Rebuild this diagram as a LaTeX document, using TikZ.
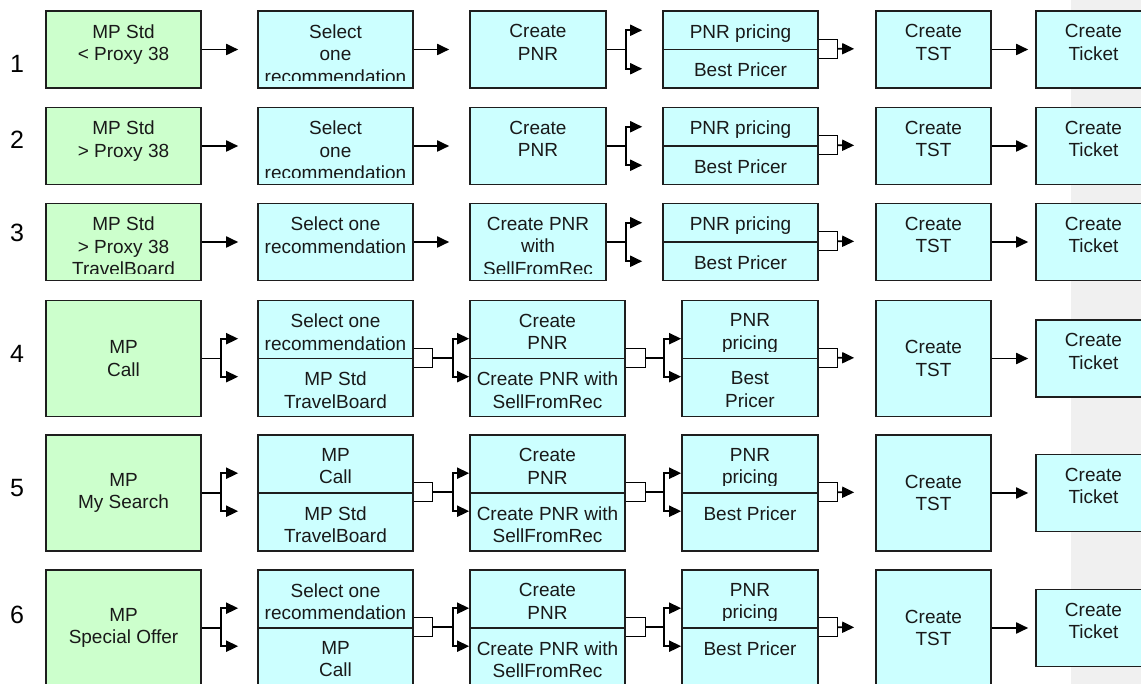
\documentclass[tikz,border=0pt]{standalone}
\usepackage{fontspec}
\setmainfont{Liberation Sans}
\usetikzlibrary{positioning,arrows.meta}

\definecolor{boxgreen}{HTML}{CCFFCC}
\definecolor{boxcyan}{HTML}{CCFFFF}
\definecolor{stripgray}{HTML}{F0F0F0}
\definecolor{edge}{HTML}{1E1E1E}

% box with top aligned text, clipped to the box
\newcommand\flowbox[4]{%
  \node[#1] (#2) at (#3) {};
  \begin{scope}
    \clip ([shift={(2pt,-2pt)}]#2.north west) rectangle ([shift={(-2pt,8pt)}]#2.south east);
    \node[txt, below=14pt of #2.north] (#2t) {#4};
  \end{scope}}

\begin{document}
\begin{tikzpicture}[x=1pt, y=-1pt,
  pbox/.style={rectangle, draw=edge, line width=1.6pt, inner sep=0pt},
  gbox/.style={pbox, fill=boxgreen},
  cbox/.style={pbox, fill=boxcyan},
  colwide/.style={minimum width=155pt},
  colmid/.style={minimum width=136pt},
  colsmall/.style={minimum width=115pt},
  rowshort/.style={minimum height=77pt},
  rowtall/.style={minimum height=116pt},
  halfshort/.style={minimum height=38.5pt},
  halftall/.style={minimum height=58pt},
  txt/.style={inner sep=0pt, align=center, text=black!90, font=\fontsize{19}{22.5}\selectfont},
  mtxt/.style={align=center, text=black!90, font=\fontsize{19}{22.5}\selectfont},
  num/.style={inner sep=0pt, font=\fontsize{25}{25}\selectfont},
  arr/.style={line width=1.8pt, -{Triangle[length=12pt,width=11pt]}},
  brk/.style={line width=1.3pt}]
\useasboundingbox (0,0) rectangle (1141,684);
\fill[stripgray] (1071,0) rectangle (1141,684);

\node[num] (n1) at (17,64) {1};
\node[num] (n2) at (17,140) {2};
\node[num] (n3) at (17,233) {3};
\node[num] (n4) at (17,354) {4};
\node[num] (n5) at (17,488) {5};
\node[num] (n6) at (17,615) {6};

% row 1
\flowbox{gbox,rowshort,colwide}{r1-a}{123.5,49.5}{MP Std\\< Proxy 38}
\flowbox{cbox,rowshort,colwide}{r1-b}{335.5,49.5}{Select\\one\\recommendation}
\flowbox{cbox,rowshort,colmid}{r1-c}{538,49.5}{Create\\PNR}
\flowbox{cbox,halfshort,colwide}{r1-dt}{740.5,30.25}{PNR pricing}
\flowbox{cbox,halfshort,colwide}{r1-db}{740.5,68.75}{Best Pricer}
\flowbox{cbox,rowshort,colsmall}{r1-e}{933.5,49.5}{Create\\TST}
\flowbox{cbox,rowshort,colsmall}{r1-f}{1093.5,49.5}{Create\\Ticket}
% row 2
\flowbox{gbox,rowshort,colwide}{r2-a}{123.5,146}{MP Std\\> Proxy 38}
\flowbox{cbox,rowshort,colwide}{r2-b}{335.5,146}{Select\\one\\recommendation}
\flowbox{cbox,rowshort,colmid}{r2-c}{538,146}{Create\\PNR}
\flowbox{cbox,halfshort,colwide}{r2-dt}{740.5,126.75}{PNR pricing}
\flowbox{cbox,halfshort,colwide}{r2-db}{740.5,165.25}{Best Pricer}
\flowbox{cbox,rowshort,colsmall}{r2-e}{933.5,146}{Create\\TST}
\flowbox{cbox,rowshort,colsmall}{r2-f}{1093.5,146}{Create\\Ticket}
% row 3
\flowbox{gbox,rowshort,colwide}{r3-a}{123.5,242}{MP Std\\> Proxy 38\\TravelBoard}
\flowbox{cbox,rowshort,colwide}{r3-b}{335.5,242}{Select one\\recommendation}
\flowbox{cbox,rowshort,colmid}{r3-c}{538,242}{Create PNR\\with\\SellFromRec}
\flowbox{cbox,halfshort,colwide}{r3-dt}{740.5,222.75}{PNR pricing}
\flowbox{cbox,halfshort,colwide}{r3-db}{740.5,261.25}{Best Pricer}
\flowbox{cbox,rowshort,colsmall}{r3-e}{933.5,242}{Create\\TST}
\flowbox{cbox,rowshort,colsmall}{r3-f}{1093.5,242}{Create\\Ticket}

% row 4
\node[gbox,rowtall,colwide,mtxt] (r4-a) at (123.5,358.5) {MP\\Call};
\flowbox{cbox,halftall,colwide}{r4-bt}{335.5,329.5}{Select one\\recommendation}
\flowbox{cbox,halftall,colwide}{r4-bb}{335.5,387.5}{MP Std\\TravelBoard}
\flowbox{cbox,halftall,colwide}{r4-ct}{547.5,329.5}{Create\\PNR}
\flowbox{cbox,halftall,colwide}{r4-cb}{547.5,387.5}{Create PNR with\\SellFromRec}
\flowbox{cbox,halftall,colmid}{r4-dt}{750,329.5}{PNR\\pricing}
\flowbox{cbox,halftall,colmid}{r4-db}{750,387.5}{Best\\Pricer}
\node[cbox,rowtall,colsmall,mtxt] (r4-e) at (933.5,358.5) {Create\\TST};
\flowbox{cbox,rowshort,colsmall}{r4-f}{1093.5,358.5}{Create\\Ticket}
% row 5
\node[gbox,rowtall,colwide,mtxt] (r5-a) at (123.5,493) {MP\\My Search};
\flowbox{cbox,halftall,colwide}{r5-bt}{335.5,464}{MP\\Call}
\flowbox{cbox,halftall,colwide}{r5-bb}{335.5,522}{MP Std\\TravelBoard}
\flowbox{cbox,halftall,colwide}{r5-ct}{547.5,464}{Create\\PNR}
\flowbox{cbox,halftall,colwide}{r5-cb}{547.5,522}{Create PNR with\\SellFromRec}
\flowbox{cbox,halftall,colmid}{r5-dt}{750,464}{PNR\\pricing}
\flowbox{cbox,halftall,colmid}{r5-db}{750,522}{Best Pricer}
\node[cbox,rowtall,colsmall,mtxt] (r5-e) at (933.5,493) {Create\\TST};
\flowbox{cbox,rowshort,colsmall}{r5-f}{1093.5,493}{Create\\Ticket}
% row 6
\node[gbox,rowtall,colwide,mtxt] (r6-a) at (123.5,628) {MP\\Special Offer};
\flowbox{cbox,halftall,colwide}{r6-bt}{335.5,599}{Select one\\recommendation}
\flowbox{cbox,halftall,colwide}{r6-bb}{335.5,657}{MP\\Call}
\flowbox{cbox,halftall,colwide}{r6-ct}{547.5,599}{Create\\PNR}
\flowbox{cbox,halftall,colwide}{r6-cb}{547.5,657}{Create PNR with\\SellFromRec}
\flowbox{cbox,halftall,colmid}{r6-dt}{750,599}{PNR\\pricing}
\flowbox{cbox,halftall,colmid}{r6-db}{750,657}{Best Pricer}
\node[cbox,rowtall,colsmall,mtxt] (r6-e) at (933.5,628) {Create\\TST};
\flowbox{cbox,rowshort,colsmall}{r6-f}{1093.5,628}{Create\\Ticket}

% connectors, rows 1-3
\foreach \row in {1,2,3}{
  \draw[arr, shorten >=19pt] (r\row-a) -- (r\row-b);
  \draw[arr, shorten >=20pt] (r\row-b) -- (r\row-c);
  \draw[arr, shorten >=20pt] (r\row-c.east) -- ++(19,0) |- (r\row-dt.west);
  \draw[arr, shorten >=20pt] (r\row-c.east) -- ++(19,0) |- (r\row-db.west);
  \draw[brk] ([yshift=9.5pt]r\row-db.north east) -- ++(19,0) |- ([yshift=-9.5pt]r\row-db.north east);
  \draw[arr, shorten >=21pt] ([xshift=19pt]r\row-db.north east) -- (r\row-e);
  \draw[arr, shorten >=7pt] (r\row-e) -- (r\row-f);
}
% connectors, rows 4-6
\foreach \row in {4,5,6}{
  \draw[arr, shorten >=19pt] (r\row-a.east) -- ++(19,0) |- ([yshift=19pt]r\row-bb.north west);
  \draw[arr, shorten >=19pt] (r\row-a.east) -- ++(19,0) |- ([yshift=-19pt]r\row-bb.north west);
  \draw[brk] ([yshift=9.5pt]r\row-bb.north east) -- ++(19,0) |- ([yshift=-9.5pt]r\row-bb.north east);
  \draw[arr] ([xshift=19pt]r\row-bb.north east) -- ++(20,0) |- ([yshift=19pt]r\row-cb.north west);
  \draw[arr] ([xshift=19pt]r\row-bb.north east) -- ++(20,0) |- ([yshift=-19pt]r\row-cb.north west);
  \draw[brk] ([yshift=9.5pt]r\row-cb.north east) -- ++(20,0) |- ([yshift=-9.5pt]r\row-cb.north east);
  \draw[arr] ([xshift=20pt]r\row-cb.north east) -- ++(18,0) |- ([yshift=19pt]r\row-db.north west);
  \draw[arr] ([xshift=20pt]r\row-cb.north east) -- ++(18,0) |- ([yshift=-19pt]r\row-db.north west);
  \draw[brk] ([yshift=9.5pt]r\row-db.north east) -- ++(19,0) |- ([yshift=-9.5pt]r\row-db.north east);
  \draw[arr, shorten >=21pt] ([xshift=19pt]r\row-db.north east) -- (r\row-e);
  \draw[arr, shorten >=7pt] (r\row-e) -- (r\row-f);
}
\end{tikzpicture}
\end{document}
